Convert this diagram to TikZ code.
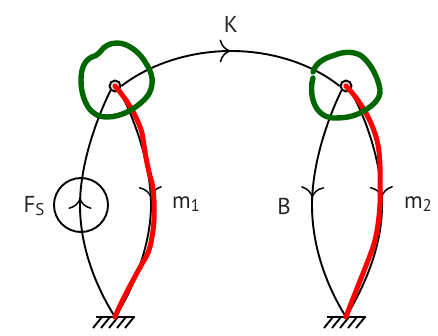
\documentclass[tikz,border=0pt]{standalone}
\usepackage{fontspec}
\setmainfont{PT Sans}
\usetikzlibrary{arrows.meta,decorations.markings,calc}
\newcommand{\subt}[1]{\raisebox{-0.3ex}{\fontsize{17}{18}\selectfont #1}}
\tikzset{
  >={Computer Modern Rightarrow[scale=1.9,line width=1.5pt]},
  wire/.style={draw=black,line width=1.9pt},
  markat/.style={postaction={decorate,decoration={markings,mark=at position #1 with {\arrow{>}}}}},
  joint/.style={circle,draw=black,line width=1.9pt,fill=black!12,minimum size=11pt,inner sep=0pt},
  source/.style={circle,draw=black,line width=1.9pt,minimum size=54pt,inner sep=0pt},
  redline/.style={draw=red,line width=5pt,line cap=round,line join=round},
  greenloop/.style={draw=green!40!black,line width=5.4pt,line cap=round,line join=round},
  lab/.style={font=\fontsize{23}{25}\selectfont,inner sep=0pt,text=black!85},
  ground/.style={line width=1.9pt}
}
\begin{document}
\begin{tikzpicture}[x=1pt,y=-1pt]
\useasboundingbox (0,0) rectangle (438,336);
\node[joint] (jl) at (115,86) {};
\node[joint] (jr) at (346,86) {};
\coordinate (gl) at (115,317);
\coordinate (gr) at (346,317);
\node[source] (src) at (81,205) {};
% ground
\coordinate (gla) at (96,317); \coordinate (glb) at (135,317);
\coordinate (gra) at (327,317); \coordinate (grb) at (366,317);
\draw[ground] (gla) -- (glb);
\draw[ground] (gra) -- (grb);
\foreach \i in {0,1,2,3,4}{
  \draw[ground] ($(gla)+(\i*8+6,0)$) -- ++(-9,11);
  \draw[ground] ($(gra)+(\i*8+6,0)$) -- ++(-9,11);
}
% wires
\draw[wire,markat=0.5] (jl.east) .. controls (150,64) and (190,51) .. (231,51) .. controls (272,51) and (312,64) .. (jr.west);
\draw[wire] (jl.south west) .. controls (96,120) and (80,165) .. (80,205) .. controls (80,250) and (98,290) .. (gl);
\draw[wire,->] (80,207) -- (80,198);
\draw[wire,markat=0.47] (jl.south east) .. controls (135,120) and (151,165) .. (151,205) .. controls (151,245) and (133,290) .. (gl);
\draw[wire,markat=0.47] (jr.south west) .. controls (327,120) and (312,165) .. (312,205) .. controls (312,250) and (329,290) .. (gr);
\draw[wire,markat=0.47] (jr.south east) .. controls (367,120) and (382,165) .. (382,205) .. controls (382,250) and (362,290) .. (gr);
% red
\draw[redline] (jl.center) .. controls (122,94) and (136,112) .. (142,133) .. controls (145,150) and (146,163) .. (152,183) .. controls (155,198) and (155,222) .. (152,237) .. controls (150,250) and (147,256) .. (143,262) .. controls (133,280) and (122,300) .. (gl);
\draw[redline] (jr.center) .. controls (352,92) and (358,100) .. (363,108) .. controls (369,118) and (375,130) .. (378,145) .. controls (381,160) and (380,185) .. (380,203) .. controls (379,220) and (377,235) .. (373,247) .. controls (368,262) and (352,300) .. (gr);
% green
\draw[greenloop] (100,52) .. controls (104,46) and (110,43) .. (117,43) .. controls (128,43) and (140,52) .. (147,65) .. controls (151,72) and (153,78) .. (152,84) .. controls (151,92) and (148,96) .. (144,100) .. controls (136,108) and (122,117) .. (107,117) .. controls (98,117) and (92,113) .. (88,107) .. controls (84,100) and (81,92) .. (81,80) .. controls (81,68) and (85,60) .. (92,57) .. controls (95,56) and (98,55) .. (100,52);
\draw[greenloop] (313,72) .. controls (316,62) and (325,58) .. (335,55) .. controls (342,52) and (352,51) .. (360,55) .. controls (368,60) and (378,75) .. (380,90) .. controls (381,100) and (370,108) .. (360,113) .. controls (350,118) and (340,118) .. (333,118) .. controls (322,117) and (316,110) .. (313,100) .. controls (311,92) and (311,85) .. (313,78);
% labels
\node[lab] (k) at (231,24) {K};
\node[lab] (fs) at (34,206) {F\subt{S}};
\node[lab] (m1) at (186,204) {m\subt{1}};
\node[lab] (b) at (284,206) {B};
\node[lab] (m2) at (418,204) {m\subt{2}};
\end{tikzpicture}
\end{document}
